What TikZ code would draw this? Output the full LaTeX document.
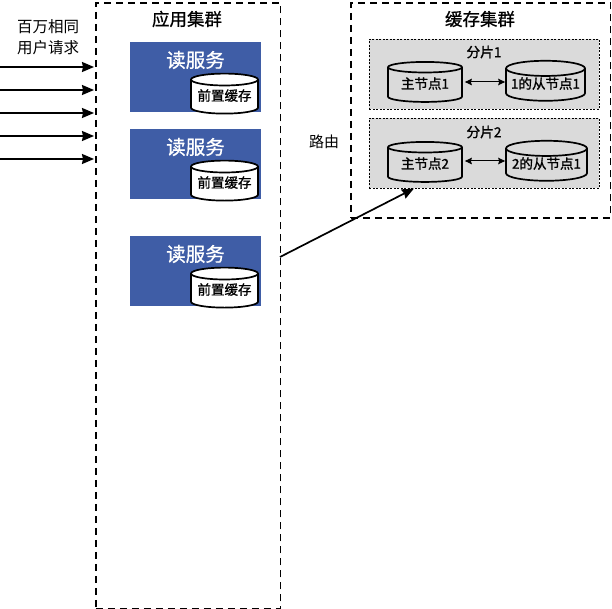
\documentclass[tikz,border=0pt]{standalone}
\usepackage{fontspec}
\setmainfont{Noto Sans CJK SC}
\newfontfamily\boldcjk[FakeBold=0.7]{Noto Sans CJK SC}
\newfontfamily\heavycjk[FakeBold=1.3]{Noto Sans CJK SC}
\newcommand{\liftup}[1]{\raisebox{4pt}{#1}}
\usetikzlibrary{shapes.geometric,arrows.meta}
\definecolor{svcblue}{HTML}{3F5DA6}
\definecolor{shardgray}{HTML}{DADADA}
\tikzset{
  x=1pt,y=-1pt,
  cluster/.style={draw,line width=1.8pt,dash pattern=on 7pt off 5pt,anchor=north west,inner sep=0pt},
  shard/.style={draw,fill=shardgray,line width=0.7pt,dash pattern=on 2pt off 1.5pt,anchor=north west,inner sep=0pt,minimum width=230pt,minimum height=70pt},
  service/.style={fill=svcblue,anchor=north west,inner sep=0pt,minimum width=131pt,minimum height=70pt},
  store/.style={draw,fill=#1,line width=1.7pt,cylinder,shape border rotate=90,aspect=0.22,inner sep=0pt,minimum height=40pt,font=\fontsize{13.5}{13.5}\heavycjk},
  store/.default=white,
  flow/.style={-{Stealth[length=12pt,width=10pt,inset=1pt]},line width=1.7pt},
  both/.style={{Stealth[length=7pt,width=6.5pt,inset=1pt]}-{Stealth[length=7pt,width=6.5pt,inset=1pt]},line width=1pt},
  label/.style={inner sep=0pt,font=\fontsize{15.5}{15.5}\selectfont},
  title/.style={inner sep=0pt,font=\fontsize{17.5}{17.5}\boldcjk},
  shardtitle/.style={inner sep=0pt,font=\fontsize{13.7}{13.7}\heavycjk},
}
\begin{document}
\begin{tikzpicture}
\useasboundingbox (0,0) rectangle (612,609);
\node[cluster,minimum width=184.5pt,minimum height=606pt] (app) at (95,2) {};
\node[cluster,minimum width=259.5pt,minimum height=215pt] (cache) at (350,2) {};
\node[title] (apptitle) at (187,19) {应用集群};
\node[title] (cachetitle) at (480,19) {缓存集群};
\node[label] (req1) at (48,27) {百万相同};
\node[label] (req2) at (48,48) {用户请求};
\node[label,font=\fontsize{15}{15}\selectfont] (route) at (324,142) {路由};

\foreach \n/\y in {a/42,b/129,c/236}{
  \node[service] (svc\n) at (130,\y) {};
  \node[label,text=white,font=\fontsize{19.5}{19.5}\boldcjk] (svct\n) at (195.5,\y+18) {读服务};
  \node[store,minimum width=67pt] (front\n) at (224.5,\y+55) {\liftup{前置缓存}};
}

\node[shard] (s1) at (369,39) {};
\node[shard] (s2) at (369,118) {};
\node[shardtitle] (s1t) at (484,52) {分片1};
\node[shardtitle] (s2t) at (484,132) {分片2};
\node[store=shardgray,minimum width=74pt] (m1) at (425,85) {\liftup{主节点1}};
\node[store=shardgray,minimum width=79pt] (r1) at (545.5,85) {\liftup{1的从节点1}};
\node[store=shardgray,minimum width=74pt] (m2) at (425,165) {\liftup{主节点2}};
\node[store=shardgray,minimum width=81pt] (r2) at (546.5,165) {\liftup{2的从节点1}};
\draw[both] (m1.east |- 0,82) ++(2,0) coordinate (p1) -- (p1 -| r1.west);
\draw[both] (m2.east |- 0,161) ++(2,0) coordinate (p2) -- (p2 -| r2.west);

\foreach \y in {67,90,113,136,159}{
  \coordinate (in\y) at (0,\y);
  \coordinate (hit\y) at (94,\y);
  \draw[flow] (in\y) -- (hit\y);
}
\coordinate (routestart) at (280,257);
\coordinate (routeend) at (414,188.5);
\draw[flow] (routestart) -- (routeend);
\end{tikzpicture}
\end{document}
